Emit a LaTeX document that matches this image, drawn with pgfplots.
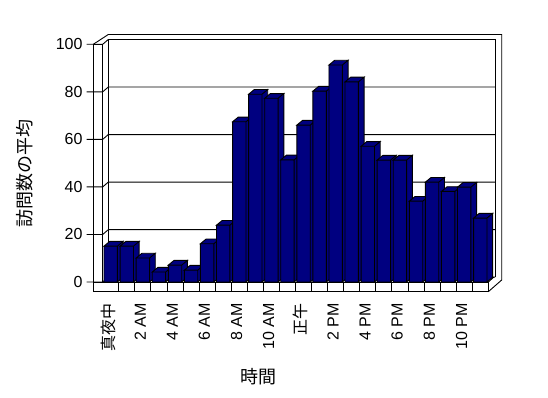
\documentclass[border=0pt]{standalone}
\usepackage{fontspec}
\setmainfont{Liberation Sans}
\newfontfamily\jp{Noto Sans CJK JP}
\usepackage{pgfplots}
\usepackage{pgfplotstable}
\pgfplotsset{compat=1.18}
\definecolor{navybar}{RGB}{0,0,128}

\pgfdeclareplotmark{bar3d}{%
  \pgfmathsetmacro\bh{\rawy*2.377}%
  \pgfmathsetmacro\bhb{4.7-\bh}%
  \pgfsetfillcolor{navybar}\pgfsetstrokecolor{black}%
  \pgfsetlinewidth{0.9pt}%
  \pgfpathrectanglecorners{\pgfpoint{-6.7pt}{-\bh pt}}{\pgfpoint{6.7pt}{0pt}}%
  \pgfpathmoveto{\pgfpoint{6.7pt}{-\bh pt}}%
  \pgfpathlineto{\pgfpoint{12.4pt}{\bhb pt}}%
  \pgfpathlineto{\pgfpoint{12.4pt}{4.7pt}}%
  \pgfpathlineto{\pgfpoint{6.7pt}{0pt}}%
  \pgfpathclose
  \pgfpathmoveto{\pgfpoint{-6.7pt}{0pt}}%
  \pgfpathlineto{\pgfpoint{-1pt}{4.7pt}}%
  \pgfpathlineto{\pgfpoint{12.4pt}{4.7pt}}%
  \pgfpathlineto{\pgfpoint{6.7pt}{0pt}}%
  \pgfpathclose
  \pgfusepathqfillstroke
}

\pgfplotstableread{
x y
0 15.1
1 15.1
2 10.1
3 4.2
4 7.1
5 5.0
6 16.1
7 23.9
8 67.4
9 79.0
10 77.3
11 51.4
12 66.0
13 80.3
14 91.3
15 84.2
16 57.1
17 51.3
18 51.3
19 34.0
20 42.0
21 38.1
22 39.9
23 26.9
}\visits

\begin{document}
\begin{tikzpicture}
\useasboundingbox (-102.7pt,-116pt) rectangle (445.3pt,282pt);
% walls and floor
\begin{scope}[x=1pt,y=1pt,line width=0.9pt,line join=miter]
  % left wall slab front face
  \draw (-9.4,-9.7) -- (-9.4,237.7) -- (0,237.7) -- (0,0);
  % floor front face
  \draw (-9.4,-9.7) -- (385.6,-9.7) -- (385.6,0) -- (-9.4,0);
  \foreach \k in {1,...,23} \draw ({16.067*\k},-9.7) -- ({16.067*\k},0);
  % gridlines, ticks
  \foreach \k in {0,...,5} {
    \draw (-16,{47.54*\k}) -- (0,{47.54*\k}) -- (5.6,{47.54*\k+4.8}) -- (392.3,{47.54*\k+4.8});
  }
  % back wall inner edges
  \draw (5.6,4.8) -- (5.6,242.5);
  \draw (392.3,4.8) -- (392.3,242.5);
  \draw (385.6,0) -- (391,4.8);
  % outer edges
  \draw (-9.4,237.7) -- (5.6,247.5) -- (399,247.5) -- (399,2) -- (385.6,-9.7);
\end{scope}
\begin{axis}[
  at={(0pt,0pt)}, anchor=south west,
  scale only axis, width=385.6pt, height=237.7pt,
  xmin=-0.5, xmax=23.5, ymin=0, ymax=100,
  clip=false,
  axis line style={draw=none},
  tick style={draw=none},
  ytick={0,20,...,100},
  xtick={0,2,...,22},
  xticklabels={{\jp 真夜中},2 AM,4 AM,6 AM,8 AM,10 AM,{\jp 正午},2 PM,4 PM,6 PM,8 PM,10 PM},
  tick label style={font=\fontsize{16}{18}\selectfont},
  /pgf/number format/assume math mode=true,
  yticklabel style={anchor=east, inner sep=0pt},
  yticklabel shift=20pt,
  xticklabel style={inner sep=0pt, xshift=-2.7pt, rotate=90, anchor=east},
  xticklabel shift=21pt,
]
\addplot[scatter, only marks, mark=bar3d,
  visualization depends on={rawy \as \rawy},
  scatter/use mapped color={draw=black,fill=navybar}]
  table[x=x,y=y]{\visits};
\end{axis}
\begin{scope}[x=1pt,y=1pt]
  \node[rotate=90, font=\jp\fontsize{18}{20}\selectfont] at (-77.7,108.7) {訪問数の平均};
  \node[font=\jp\fontsize{18}{20}\selectfont] at (155.3,-95) {時間};
\end{scope}
\end{tikzpicture}
\end{document}
